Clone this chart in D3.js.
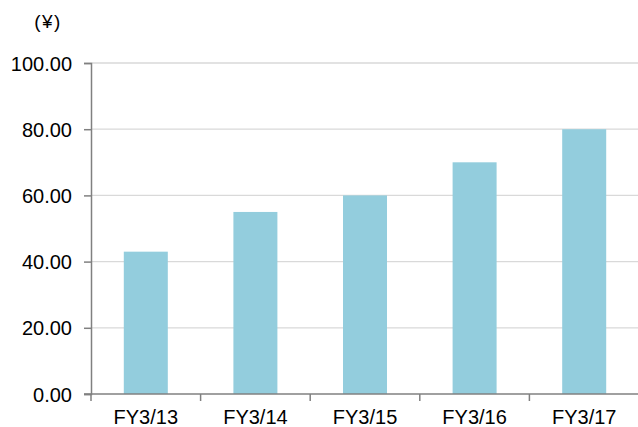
<!DOCTYPE html>
<html>
<head>
<meta charset="utf-8">
<script src="https://cdn.jsdelivr.net/npm/d3@7"></script>
<style>
  body { margin: 0; background: #fff; }
  svg text { font-family: "Liberation Sans", Arial, sans-serif; fill: #000; }
</style>
</head>
<body>
<svg id="chart" width="638" height="427"></svg>
<script>
const categories = ["FY3/13", "FY3/14", "FY3/15", "FY3/16", "FY3/17"];
const dividends = [43, 55, 60, 70, 80];
const yTicks = [0, 20, 40, 60, 80, 100];

const svg = d3.select("#chart");
const plotLeft = 91, plotRight = 639, plotTop = 63, plotBottom = 394;

const x = d3.scaleBand().domain(categories).range([plotLeft, plotRight]).paddingInner(0).paddingOuter(0);
const y = d3.scaleLinear().domain([0, 100]).range([plotBottom, plotTop]);

// gridlines
svg.append("g")
  .selectAll("line")
  .data(yTicks.filter(d => d > 0))
  .enter().append("line")
  .attr("x1", plotLeft).attr("x2", plotRight)
  .attr("y1", d => y(d)).attr("y2", d => y(d))
  .attr("stroke", "#d9d9d9")
  .attr("stroke-width", 1.3);

// bars
const barW = 44;
svg.append("g")
  .selectAll("rect")
  .data(dividends)
  .enter().append("rect")
  .attr("x", (d, i) => x(categories[i]) + x.bandwidth() / 2 - barW / 2)
  .attr("y", d => y(d))
  .attr("width", barW)
  .attr("height", d => plotBottom - y(d))
  .attr("fill", "#93cddd");

// y axis
const yAxis = svg.append("g")
  .attr("transform", `translate(${plotLeft},0)`)
  .call(d3.axisLeft(y).tickValues(yTicks).tickFormat(d3.format(".2f")).tickSize(7).tickPadding(12));
yAxis.select(".domain").attr("stroke", "#808080").attr("stroke-width", 1.5);
yAxis.selectAll(".tick line").attr("stroke", "#808080").attr("stroke-width", 1.5);
yAxis.selectAll("text").style("font-size", "20px").attr("dy", "0.35em");

// x axis
const xAxis = svg.append("g")
  .attr("transform", `translate(0,${plotBottom})`)
  .call(d3.axisBottom(x).tickSize(0).tickPadding(16));
xAxis.select(".domain").remove();
svg.append("line")
  .attr("x1", plotLeft - 7).attr("x2", plotRight)
  .attr("y1", plotBottom).attr("y2", plotBottom)
  .attr("stroke", "#808080").attr("stroke-width", 1.5);
svg.append("g")
  .selectAll("line")
  .data(categories)
  .enter().append("line")
  .attr("x1", d => x(d))
  .attr("x2", d => x(d))
  .attr("y1", plotBottom).attr("y2", plotBottom + 7)
  .attr("stroke", "#808080").attr("stroke-width", 1.5);
xAxis.selectAll("text").style("font-size", "20px");

// unit label
svg.append("text")
  .attr("x", 48).attr("y", 28)
  .attr("text-anchor", "middle")
  .style("font-size", "19px")
  .style("letter-spacing", "1.5px")
  .text("(¥)");
</script>
</body>
</html>
